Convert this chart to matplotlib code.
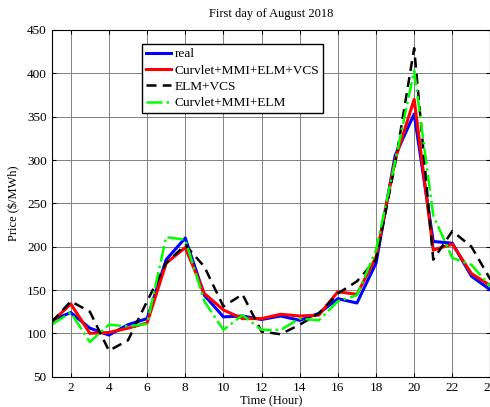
import matplotlib.pyplot as plt

plt.rcParams['font.family'] = ['Liberation Serif', 'DejaVu Serif']

hours = list(range(1, 25))

# hourly price series ($/MWh)
real = [115, 124, 106, 98, 110, 117, 185, 210, 144, 119, 120, 116,
        120, 115, 123, 140, 135, 181, 305, 353, 206, 204, 166, 150]
curvlet_vcs = [113, 134, 100, 101, 106, 112, 181, 199, 146, 127, 117, 117,
               122, 120, 121, 148, 145, 188, 300, 370, 196, 203, 169, 155]
elm_vcs = [113, 137, 125, 80, 92, 137, 181, 202, 177, 131, 145, 102,
           99, 110, 123, 146, 160, 185, 295, 429, 185, 218, 200, 162]
curvlet_elm = [110, 124, 90, 110, 108, 111, 211, 208, 137, 104, 121, 104,
               104, 117, 115, 137, 144, 196, 298, 403, 236, 187, 179, 154]

fig = plt.figure(figsize=(4.9, 4.07), dpi=100)
ax = fig.add_axes([0.1055, 0.0745, 0.8955, 0.8518])

ax.plot(hours, real, color='blue', linewidth=2.2, label='real')
ax.plot(hours, curvlet_vcs, color='red', linewidth=2.2, label='Curvlet+MMI+ELM+VCS')
ax.plot(hours, elm_vcs, color='black', linewidth=1.8, linestyle='--', dashes=(4, 2.5),
        label='ELM+VCS')
ax.plot(hours, curvlet_elm, color='#00ff00', linewidth=1.8, linestyle='-.',
        label='Curvlet+MMI+ELM')

ax.set_xlim(1, 24)
ax.set_ylim(50, 450)
ax.set_xticks(range(2, 25, 2))
ax.set_yticks(range(50, 451, 50))
ax.grid(True, color='#808080', linewidth=0.7)
ax.tick_params(direction='in', top=True, right=True, labelsize=9.5, length=3)

ax.set_title('First day of August 2018', fontsize=9, pad=9)
ax.set_xlabel('Time (Hour)', fontsize=9, labelpad=1)
ax.set_ylabel('Price ($/MWh)', fontsize=9, labelpad=5)

leg = ax.legend(loc='upper left', bbox_to_anchor=(0.205, 0.96), borderaxespad=0,
                fontsize=9.6, fancybox=False, framealpha=1, edgecolor='black',
                handlelength=1.9, borderpad=0.3, labelspacing=0.3, handletextpad=0.25)
leg.get_frame().set_linewidth(1.0)

fig.savefig('out.png', dpi=100)
